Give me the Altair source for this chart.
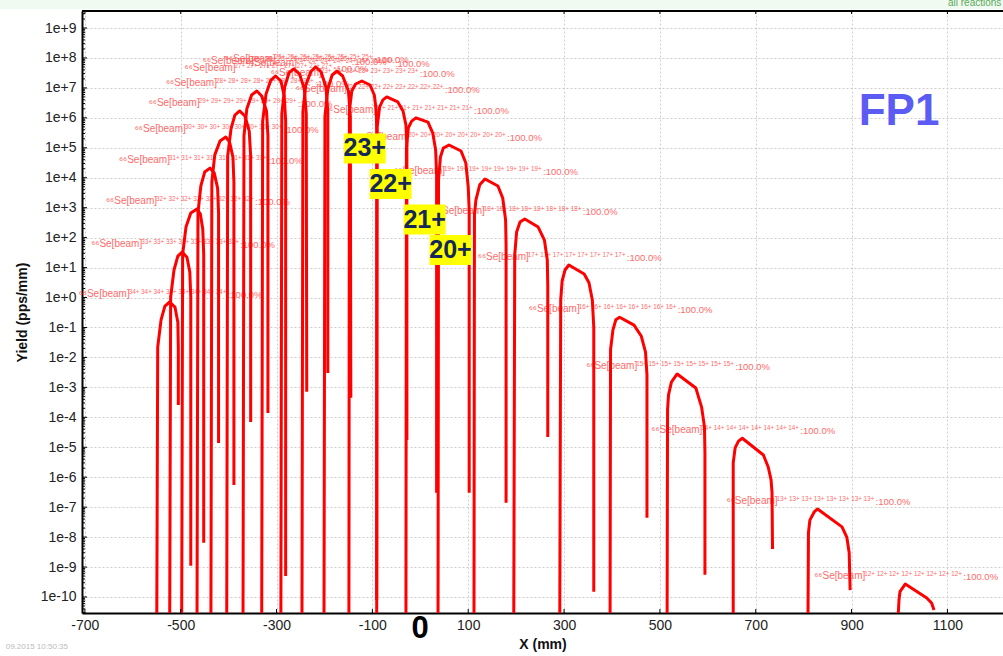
import altair as alt
import pandas as pd

# ---------------- data ----------------
CHARGES = [34, 33, 32, 31, 30, 29, 28, 27, 26, 25, 24, 23, 22, 21, 20, 19, 18, 17, 16, 15, 14, 13, 12]

x_34 = [-550, -548, -541, -533, -523, -512, -506, -505, -505]
y_34 = [1e-11, 2.2e-2, 0.18, 0.52, 0.71, 0.48, 0.15, 2.2e-2, 2.6e-4]
x_33 = [-523, -521, -514, -506, -497, -487, -481, -479, -479]
y_33 = [1e-11, 1.04, 8.3, 24, 33, 22, 7.1, 1.04, 1.1e-9]
x_32 = [-498, -496, -489, -479, -466, -459, -454, -452, -452]
y_32 = [1e-11, 28, 225, 665, 910, 615, 195, 28, 6.5e-9]
x_31 = [-466, -464, -458, -450, -439, -430, -423, -421, -421]
y_31 = [1e-11, 665, 5.3e3, 1.55e4, 2.1e4, 1.45e4, 4.5e3, 665, 1.4e-5]
x_30 = [-437, -435, -429, -418, -406, -398, -391, -389, -389]
y_30 = [1e-11, 7.2e3, 5.7e4, 1.7e5, 2.3e5, 1.55e5, 4.9e4, 7.2e3, 5.5e-7]
x_29 = [-404, -402, -395, -387, -377, -366, -357, -354, -354]
y_29 = [1e-11, 5.4e4, 4.3e5, 1.23e6, 1.7e6, 1.15e6, 3.6e5, 5.4e4, 7e-5]
x_28 = [-370, -368, -362, -352, -341, -331, -321, -318, -318]
y_28 = [1e-11, 2.5e5, 2.0e6, 5.8e6, 7.9e6, 5.4e6, 1.7e6, 2.5e5, 1.4e-4]
x_27 = [-331, -329, -322, -312, -302, -291, -284, -281, -281]
y_27 = [1e-11, 7.8e5, 6.2e6, 1.8e7, 2.5e7, 1.7e7, 5.4e6, 7.8e5, 5e-10]
x_26 = [-291, -289, -283, -274, -264, -252, -242, -238, -237]
y_26 = [1e-11, 1.35e6, 1.07e7, 3.2e7, 4.3e7, 2.9e7, 9.1e6, 1.35e6, 7.1e-4]
x_25 = [-247, -245, -239, -228, -218, -207, -197, -193, -193]
y_25 = [1e-11, 1.6e6, 1.25e7, 3.6e7, 5.0e7, 3.4e7, 1.07e7, 1.6e6, 3.0e-3]
x_24 = [-201, -199, -193, -184, -174, -162, -150, -146, -145]
y_24 = [1e-11, 1.15e6, 9.1e6, 2.7e7, 3.6e7, 2.5e7, 7.9e6, 1.15e6, 4.5e-4]
x_23 = [-149, -148, -143, -135, -122, -105, -96, -92, -91, -91]
y_23 = [1e-11, 1.7e6, 7.9e6, 1.35e7, 1.7e7, 1.25e7, 5.8e6, 1.8e6, 3.9e5, 8e-11]
x_22 = [-91, -90, -85, -78, -70, -47, -36, -30, -28, -28]
y_22 = [1e-11, 4.9e5, 2.3e6, 4.0e6, 5.0e6, 3.4e6, 1.7e6, 5.8e5, 1.2e5, 1.75e-5]
x_21 = [-30, -29, -25, -18, -9, 16, 26, 32, 34, 34]
y_21 = [1e-11, 9.8e4, 4.6e5, 7.8e5, 1.0e6, 7.2e5, 3.1e5, 8.5e4, 1.23e4, 3.0e-7]
x_20 = [37, 38, 42, 48, 60, 85, 95, 100, 102, 102]
y_20 = [1e-11, 8.4e3, 4.9e4, 9.8e4, 1.24e5, 7.8e4, 3.1e4, 4.9e3, 840, 3.0e-7]
x_19 = [112, 113, 116, 124, 135, 162, 172, 178, 179, 179]
y_19 = [1e-11, 570, 1.8e3, 5.8e3, 9.1e3, 5.3e3, 2.1e3, 390, 57, 1.4e-7]
x_18 = [195, 197, 201, 208, 218, 246, 259, 265, 266, 266]
y_18 = [1e-11, 26, 155, 330, 420, 225, 83, 18, 2.6, 2.2e-5]
x_17 = [291, 293, 296, 302, 310, 342, 352, 359, 362, 362]
y_17 = [1e-11, 0.83, 3.6, 8.3, 12.2, 6.1, 3.1, 0.83, 0.10, 1.5e-10]
x_16 = [396, 397, 402, 408, 416, 446, 461, 470, 473, 473]
y_16 = [1e-11, 0.018, 0.083, 0.18, 0.22, 0.12, 0.052, 0.015, 2.6e-3, 4.4e-8]
x_15 = [515, 516, 518, 524, 536, 575, 587, 593, 594, 594]
y_15 = [1e-11, 1.8e-4, 5.6e-4, 1.5e-3, 2.8e-3, 9.5e-4, 2.2e-4, 4.8e-5, 6.5e-6, 5.5e-10]
x_14 = [653, 653, 657, 664, 672, 716, 726, 732, 734, 735]
y_14 = [1e-11, 3.0e-6, 9.5e-6, 1.6e-5, 2.0e-5, 5.5e-6, 2.2e-6, 8.1e-7, 3.0e-7, 4.0e-9]
x_13 = [809, 810, 813, 822, 829, 880, 890, 895, 897]
y_13 = [1e-11, 1.4e-8, 3.7e-8, 6.9e-8, 8.7e-8, 2.2e-8, 1.0e-8, 3.0e-9, 1.7e-10]
x_12 = [996, 999, 1001, 1012, 1057, 1067, 1072]
y_12 = [1e-11, 8.1e-11, 1.5e-10, 2.7e-10, 9.3e-11, 6.3e-11, 3.7e-11]

BOX_TEXT = ["23+", "22+", "21+", "20+"]
BOX_X = [-116, -62, 9, 63]
BOX_Y = [9.5e4, 6.2e3, 400, 39]

X_TICKS = [-700, -500, -300, -100, 100, 300, 500, 700, 900, 1100]
Y_TICKS = [1e-10, 1e-9, 1e-8, 1e-7, 1e-6, 1e-5, 1e-4, 1e-3, 1e-2, 1e-1,
           1e0, 1e1, 1e2, 1e3, 1e4, 1e5, 1e6, 1e7, 1e8, 1e9]
X_DOMAIN = [-706, 1216]
Y_DOMAIN = [2.92e-11, 3.7e9]

FP_LABEL = ["FP1"]
FP_X = [999]
FP_Y = [1.57e6]

# ---------------- tables ----------------
series = {
    34: (x_34, y_34), 33: (x_33, y_33), 32: (x_32, y_32), 31: (x_31, y_31),
    30: (x_30, y_30), 29: (x_29, y_29), 28: (x_28, y_28), 27: (x_27, y_27),
    26: (x_26, y_26), 25: (x_25, y_25), 24: (x_24, y_24), 23: (x_23, y_23),
    22: (x_22, y_22), 21: (x_21, y_21), 20: (x_20, y_20), 19: (x_19, y_19),
    18: (x_18, y_18), 17: (x_17, y_17), 16: (x_16, y_16), 15: (x_15, y_15),
    14: (x_14, y_14), 13: (x_13, y_13), 12: (x_12, y_12),
}
rows, lab = [], []
for q in CHARGES:
    xs, ys = series[q]
    for i, (a, b) in enumerate(zip(xs, ys)):
        rows.append({"q": q, "i": i, "x": a, "y": b})
    k = ys.index(max(ys))
    lab.append({"q": q, "x": xs[k], "y": ys[k],
                "t1": "\u2076\u2076Se[beam]",
                "t2": " ".join([f"{q}+"] * 8),
                "t3": ":100.0%"})
df = pd.DataFrame(rows)
ldf = pd.DataFrame(lab)
boxdf = pd.DataFrame({"t": BOX_TEXT, "x": BOX_X, "y": BOX_Y})
fpdf = pd.DataFrame({"t": FP_LABEL, "x": FP_X, "y": FP_Y})

minor = []
for e in range(-11, 10):
    for m in range(2, 10):
        v = m * 10.0 ** e
        if Y_DOMAIN[0] <= v <= Y_DOMAIN[1]:
            minor.append(v)
minordf = pd.DataFrame({"x": [X_DOMAIN[0]] * len(minor), "y": minor})
majordf = pd.DataFrame({"x": [X_DOMAIN[0]] * len(Y_TICKS), "y": Y_TICKS})
xtdf = pd.DataFrame({"x": X_TICKS})
one = pd.DataFrame({"a": [0]})

W, H = 921, 602
xs_ = alt.Scale(domain=X_DOMAIN, nice=False, zero=False)
ys_ = alt.Scale(type="log", domain=Y_DOMAIN, nice=False)

xaxis = alt.Axis(values=X_TICKS, labelExpr="'' + datum.value", labelFlush=False,
                 labelOverlap=False,
                 ticks=False, domainColor="black", domainWidth=2,
                 grid=True, gridColor="#cccccc", gridDash=[2, 2],
                 labelFontSize=14, labelColor="#222222", labelPadding=5,
                 title="X (mm)", titleFontSize=14, titleFontWeight="bold",
                 titleColor="#111111", titlePadding=5)
yaxis = alt.Axis(values=Y_TICKS, labelOverlap=False, labelFlush=False,
                 labelExpr="'1e' + (round(log(datum.value)/LN10) >= 0 ? '+' : '') + round(log(datum.value)/LN10)",
                 ticks=False, domainColor="black", domainWidth=2,
                 grid=True, gridColor="#cccccc", gridDash=[2, 2],
                 labelFontSize=14, labelColor="#222222", labelPadding=6,
                 title="Yield (pps/mm)", titleFontSize=14, titleFontWeight="bold",
                 titleColor="#111111", titlePadding=11)

X = alt.X("x:Q", scale=xs_, axis=xaxis)
Y = alt.Y("y:Q", scale=ys_, axis=yaxis)

lab_color = "#ff5050"
t1 = alt.Chart(ldf).mark_text(align="left", baseline="middle", dx=-91, dy=-8,
                              fontSize=10, color=lab_color, opacity=0.85).encode(
    x=X, y=Y, text="t1:N")
t2 = alt.Chart(ldf).mark_text(align="left", baseline="middle", dx=-41, dy=-10,
                              fontSize=6.3, color=lab_color, opacity=0.85).encode(
    x=X, y=Y, text="t2:N")
t3 = alt.Chart(ldf).mark_text(align="left", baseline="middle", dx=58, dy=-7,
                              fontSize=9.5, color=lab_color, opacity=0.85).encode(
    x=X, y=Y, text="t3:N")

lines = alt.Chart(df).mark_line(color="#ff0000", strokeWidth=3, clip=True,
                                strokeJoin="round").encode(
    x=X, y=Y, detail="q:N", order="i:Q")

minor_ticks = alt.Chart(minordf).mark_rule(color="black", strokeWidth=1).encode(
    y=Y, x=alt.value(0), x2=alt.value(3))
major_ticks = alt.Chart(majordf).mark_rule(color="black", strokeWidth=1).encode(
    y=Y, x=alt.value(0), x2=alt.value(5))
bottom_ticks = alt.Chart(xtdf).mark_rule(color="black", strokeWidth=1).encode(
    x=X, y=alt.value(H), y2=alt.value(H - 4))
top_ticks = alt.Chart(xtdf).mark_rule(color="black", strokeWidth=1).encode(
    x=X, y=alt.value(0), y2=alt.value(3))
top_border = alt.Chart(one).mark_rule(color="black", strokeWidth=2).encode(
    x=alt.value(0), x2=alt.value(W), y=alt.value(0))
top_band = alt.Chart(one).mark_rect(color="#f0faf0").encode(
    x=alt.value(-82), x2=alt.value(W), y=alt.value(-11), y2=alt.value(-2))
green_txt = alt.Chart(one).mark_text(align="left", baseline="middle", fontSize=10,
                                     color="#5aa85a").encode(
    x=alt.value(866), y=alt.value(-8), text=alt.value("all reactions summed"))
date_txt = alt.Chart(one).mark_text(align="right", baseline="middle", fontSize=8,
                                    color="#bbbbbb").encode(
    x=alt.value(-14), y=alt.value(35 + H - 1), text=alt.value("09.2015  10:50:35"))
zero_txt = alt.Chart(one).mark_text(align="center", baseline="middle", fontSize=31,
                                    fontWeight="bold", color="black").encode(
    x=alt.value(338), y=alt.value(H + 16), text=alt.value("0"))

boxes = alt.Chart(boxdf).mark_point(
    shape="M-1,-0.714L1,-0.714L1,0.714L-1,0.714Z", size=1764, filled=True,
    color="#ffff00", opacity=1).encode(x=X, y=Y)
box_txt = alt.Chart(boxdf).mark_text(align="center", baseline="middle", fontSize=25,
                                     fontWeight="bold", color="#14295a").encode(
    x=X, y=Y, text="t:N")
fp = alt.Chart(fpdf).mark_text(align="center", baseline="middle", fontSize=44,
                               fontWeight="bold", color="#5c5cf5").encode(
    x=X, y=Y, text="t:N")

chart = alt.layer(
    top_band, t1, t2, t3, lines, minor_ticks, major_ticks,
    bottom_ticks, top_ticks, top_border, green_txt, date_txt, zero_txt,
    boxes, box_txt, fp
).properties(
    width=W, height=H,
    autosize=alt.AutoSizeParams(type="none"),
    padding={"left": 82, "top": 11, "right": 0, "bottom": 43},
).configure_view(stroke=None).configure(font="Liberation Sans")

chart.save("out.html", embed_options={"renderer": "svg", "actions": False})
